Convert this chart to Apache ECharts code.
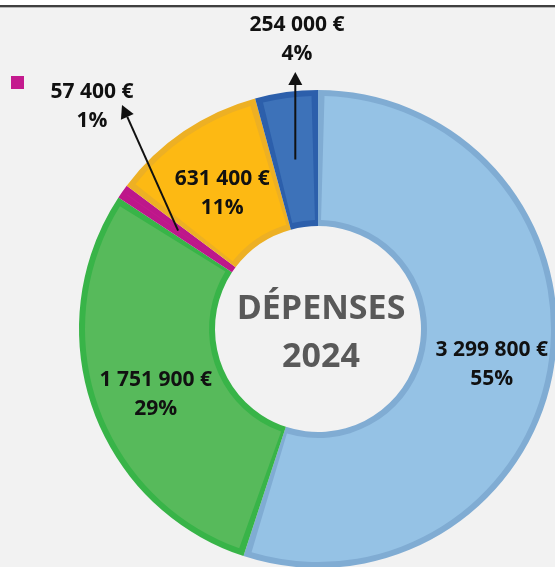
<!DOCTYPE html>
<html>
<head>
<meta charset="utf-8">
<title>Dépenses 2024</title>
<script src="https://cdn.jsdelivr.net/npm/echarts@6/dist/echarts.min.js"></script>
<style>
  html, body { margin: 0; padding: 0; background: #fff; }
  #frame { position: absolute; left: 0; top: 5px; width: 555px; height: 562px; background: #f2f2f2;
           border-top: 2px solid #3f3f3f; box-shadow: inset 0 1px 0 #b5b5b5; box-sizing: border-box; }
  #chart { position: absolute; left: 0; top: 0; width: 555px; height: 567px; }
</style>
</head>
<body>
<div id="frame"></div>
<div id="chart"></div>
<script>
// postes de dépenses, dans l'ordre horaire depuis midi
const categories = ["Poste 1", "Poste 2", "Poste 3", "Poste 4", "Poste 5"];
const values = [3299800, 1751900, 57400, 631400, 254000];
const fillColors = ["#95c2e5", "#57ba5b", "#c41a8e", "#fdb913", "#3d72b9"];
const edgeColors = ["#80acd3", "#38b448", "#bd178a", "#edb024", "#2c5fab"];

const FONT = "'Open Sans', 'Noto Sans', sans-serif";
const CENTER = [318, 329];

// étiquettes sorties du donut (petites parts) + flèches
const outsideLabels = { 2: [92, 107], 4: [297, 40] };
const arrows = [
  { index: 4, tip: [null, 72] },
  { index: 2, tip: [122, 105] }
];

const fmt = v => String(v).replace(/\B(?=(\d{3})+(?!\d))/g, " ");

const chart = echarts.init(document.getElementById("chart"));

const option = {
  animation: false,
  backgroundColor: "transparent",
  title: {
    text: "DÉPENSES\n2024",
    left: 316,
    top: 280,
    textAlign: "center",
    textStyle: {
      fontFamily: FONT,
      fontSize: 34,
      fontWeight: "bold",
      color: "#595959",
      lineHeight: 48
    }
  },
  legend: {
    data: [{ name: categories[2], itemStyle: { color: fillColors[2] } }],
    left: 11,
    top: 76,
    padding: 0,
    icon: "rect",
    itemWidth: 13,
    itemHeight: 13,
    selectedMode: false,
    formatter: () => ""
  },
  series: [
    {
      // bordure des parts
      type: "pie",
      silent: true,
      center: CENTER,
      radius: [103, 239],
      startAngle: 90,
      label: { show: false },
      labelLine: { show: false },
      data: categories.map((n, i) => ({ name: n, value: values[i], itemStyle: { color: edgeColors[i] } }))
    },
    {
      type: "pie",
      silent: true,
      center: CENTER,
      radius: [109, 233],
      startAngle: 90,
      padAngle: 3.2,
      label: {
        show: true,
        position: "inside",
        color: "#111",
        fontFamily: FONT,
        fontWeight: "bold",
        fontSize: 21,
        lineHeight: 29,
        formatter: p => fmt(p.value) + " €\n" + Math.round(p.percent) + "%"
      },
      labelLine: { show: false },
      labelLayout: function (p) {
        const pos = outsideLabels[p.dataIndex];
        if (!pos) return { dx: 1, dy: 4 };
        return { x: pos[0], y: pos[1], align: "center", verticalAlign: "middle" };
      },
      data: categories.map((n, i) => ({ name: n, value: values[i], itemStyle: { color: fillColors[i] } }))
    }
  ]
};

chart.setOption(option);

// flèches depuis le milieu de la part vers l'étiquette
const pieData = chart.getModel().getSeriesByIndex(1).getData();
const graphics = [];
arrows.forEach(a => {
  const l = pieData.getItemLayout(a.index);
  const mid = (l.startAngle + l.endAngle) / 2;
  const rm = (l.r + l.r0) / 2;
  const sx = l.cx + rm * Math.cos(mid);
  const sy = l.cy + rm * Math.sin(mid);
  const tx = a.tip[0] == null ? sx : a.tip[0];
  const ty = a.tip[1];
  const len = Math.hypot(tx - sx, ty - sy);
  const ux = (tx - sx) / len, uy = (ty - sy) / len;
  const head = 13, half = 7;
  const bx = tx - ux * head, by = ty - uy * head;
  graphics.push({
    type: "line",
    silent: true,
    z: 100,
    shape: { x1: sx, y1: sy, x2: bx, y2: by },
    style: { stroke: "#111", lineWidth: 2 }
  });
  graphics.push({
    type: "polygon",
    silent: true,
    z: 100,
    shape: { points: [[tx, ty], [bx - uy * half, by + ux * half], [bx + uy * half, by - ux * half]] },
    style: { fill: "#111" }
  });
});
chart.setOption({ graphic: graphics });

window.addEventListener("resize", () => {
  chart.resize();
});
</script>
</body>
</html>
